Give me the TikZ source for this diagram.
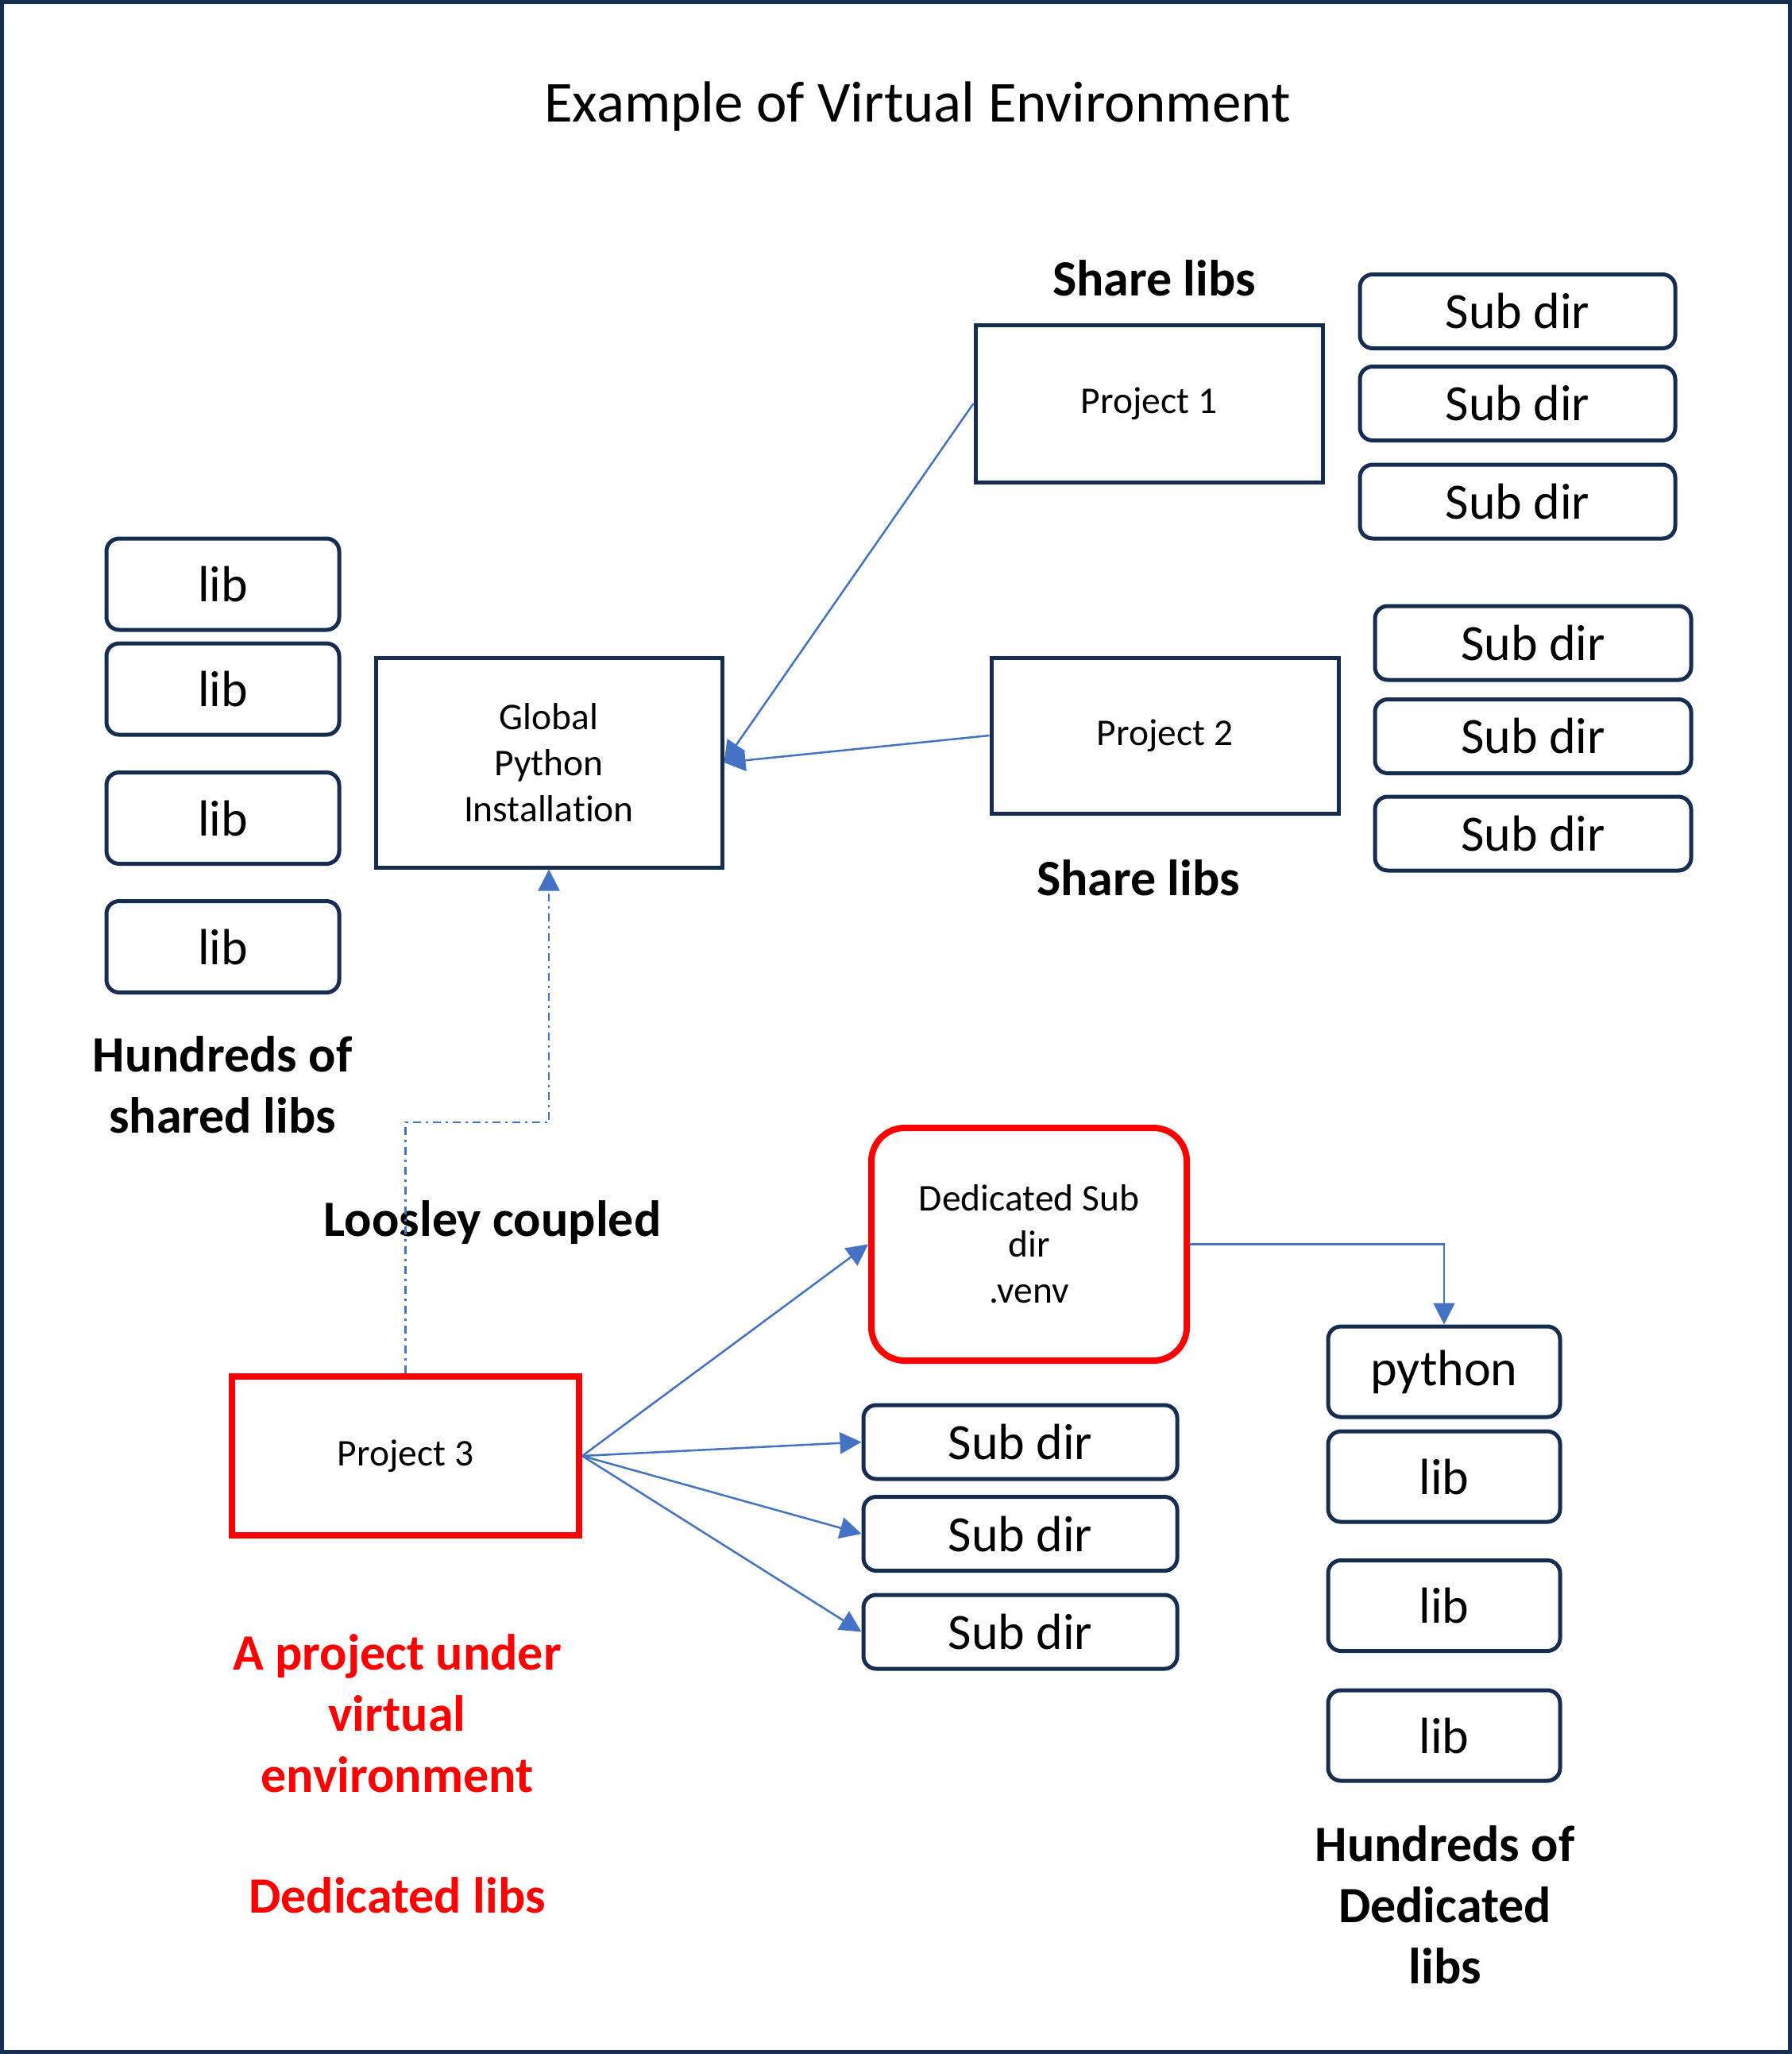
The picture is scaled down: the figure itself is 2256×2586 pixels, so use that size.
\documentclass[tikz,border=0pt]{standalone}
\usepackage{fontspec}
\setmainfont{Carlito}[Ligatures=NoCommon]
\usetikzlibrary{arrows.meta}
\definecolor{navy}{HTML}{172C51}
\definecolor{conblue}{HTML}{4472C4}
\definecolor{pred}{HTML}{FF0000}
\begin{document}
\begin{tikzpicture}[x=1pt,y=-1pt,
  rbox/.style={draw=navy, line width=5pt, rounded corners=16pt, inner sep=0pt, font=\fontsize{64}{78}\selectfont},
  sqbox/.style={draw=navy, line width=5pt, inner sep=0pt, align=center, font=\fontsize{47.5}{58}\selectfont},
  redsq/.style={draw=pred, line width=8pt, inner sep=0pt, align=center, font=\fontsize{47.5}{58}\selectfont},
  redround/.style={draw=pred, line width=8pt, rounded corners=42pt, inner sep=0pt, align=center, font=\fontsize{47.5}{58}\selectfont},
  lbl/.style={align=center, font=\fontsize{64}{77}\selectfont\bfseries},
  redlbl/.style={lbl, text=pred},
  conn/.style={draw=conblue, line width=2.5pt, -{Triangle[length=27pt,width=27pt]}},
  dashconn/.style={conn, dash pattern=on 10pt off 6pt on 3pt off 6pt}
]
\useasboundingbox (0,0) rectangle (2256,2586);
\draw[navy, line width=5pt] (2.5,2.5) rectangle (2253.5,2583.5);

\node[font=\fontsize{73}{88}\selectfont] (title) at (1155,134) {Example of Virtual Environment};

% top projects
\node[sqbox, minimum width=437pt, minimum height=198pt] (p1) at (1446.5,508) {Project 1};
\node[sqbox, minimum width=437pt, minimum height=196pt] (p2) at (1466.5,926) {Project 2};
\node[sqbox, minimum width=436pt, minimum height=264pt] (glob) at (691,960) {Global\\Python\\Installation};

\node[lbl] (share1) at (1453,350) {Share libs};
\node[lbl] (share2) at (1433,1105) {Share libs};

% left libs
\foreach \n/\y in {1/735.5,2/867.5,3/1030,4/1192}
  \node[rbox, minimum width=293pt, minimum height=115pt] (l\n) at (280.5,\y) {lib};
\node[lbl] (hshared) at (280,1366) {Hundreds of\\shared libs};

% sub dir group 1
\foreach \n/\y in {1/392,2/508,3/631.5}
  \node[rbox, minimum width=397pt, minimum height=93pt] (a\n) at (1910.5,\y) {Sub dir};
% sub dir group 2
\foreach \n/\y in {1/809.5,2/927,3/1049.5}
  \node[rbox, minimum width=398pt, minimum height=93pt] (b\n) at (1930,\y) {Sub dir};

% project 3 area
\node[redround, minimum width=397pt, minimum height=293pt] (venv) at (1295.5,1566.5) {Dedicated Sub\\dir\\.venv};
\node[redsq, minimum width=437pt, minimum height=200pt] (p3) at (510.5,1833) {Project 3};
\node[lbl] (loose) at (620,1539) {Loosley coupled};

\foreach \n/\y in {1/1815.5,2/1931,3/2054.5}
  \node[rbox, minimum width=395pt, minimum height=93pt] (c\n) at (1284.5,\y) {Sub dir};

\node[rbox, minimum width=292pt, minimum height=114pt] (py) at (1818,1727) {python};
\foreach \n/\y in {1/1859,2/2021.5,3/2185}
  \node[rbox, minimum width=292pt, minimum height=114pt] (d\n) at (1818,\y) {lib};

\node[lbl] (hded) at (1819,2398) {Hundreds of\\Dedicated\\libs};
\node[redlbl] (under) at (500,2157) {A project under\\virtual\\environment};
\node[redlbl] (dedl) at (500,2386) {Dedicated libs};

% connectors
\draw[conn] (p1.west) -- (glob.east);
\draw[conn] (p2.west) -- (glob.east);
\coordinate (k1) at (p3.north |- 0,1413);
\coordinate (k2) at (glob.south |- 0,1413);
\draw[dashconn] (p3.north) -- (k1) -- (k2) -- (glob.south);
\draw[conn] (p3.east) -- (venv.west);
\draw[conn] (p3.east) -- (c1.west);
\draw[conn] (p3.east) -- (c2.west);
\draw[conn] (p3.east) -- (c3.west);
\draw[conn] (venv.east) -| (py.north);
\end{tikzpicture}
\end{document}
